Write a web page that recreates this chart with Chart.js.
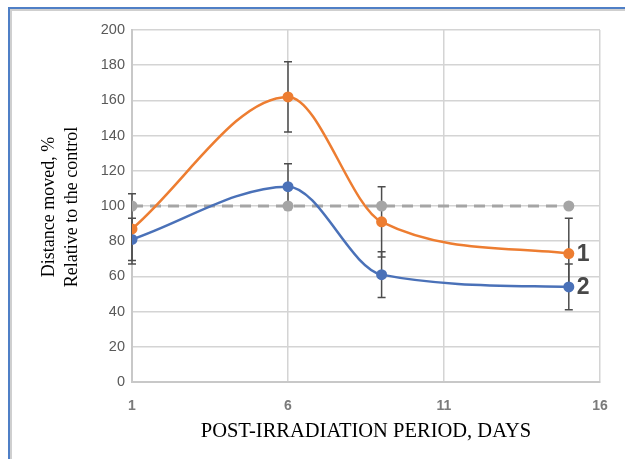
<!DOCTYPE html>
<html>
<head>
<meta charset="utf-8">
<script src="https://cdn.jsdelivr.net/npm/chart.js@4"></script>
<style>
  html, body { margin: 0; padding: 0; background: #ffffff; }
  #wrap { position: relative; width: 625px; height: 459px; overflow: hidden; }
  #frameOuter { position: absolute; left: 8px; top: 7px; width: 700px; height: 500px;
    border-left: 2px solid #4f7fc6; border-top: 2px solid #4f7fc6; }
  #frameInner { position: absolute; left: 10px; top: 9px; width: 700px; height: 500px;
    border-left: 2px solid #cfcfcf; border-top: 2px solid #cfcfcf; }
  canvas { position: absolute; left: 0; top: 0; }
</style>
</head>
<body>
<div id="wrap">
  <div id="frameOuter"></div>
  <div id="frameInner"></div>
  <canvas id="c" width="625" height="459"></canvas>
</div>
<script>
const days = [1, 6, 9, 15];
const series1 = [87, 162, 91, 73];      // orange, curve "1"
const series1Err = [20, 20, 20, 20];
const series2 = [81, 111, 61, 54];      // blue, curve "2"
const series2Err = [12, 13, 13, 13];
const control = [100, 100, 100, 100];  // grey dashed control
const seriesLabels = ['1', '2'];
const xTicks = [1, 6, 11, 16];
const yTitle = ['Distance moved, %', 'Relative to the control'];
const xTitle = 'POST-IRRADIATION PERIOD, DAYS';

const toPts = (arr) => arr.map((v, i) => ({ x: days[i], y: v }));

const errorBars = {
  id: 'errorBars',
  beforeDatasetsDraw(chart) {
    const ctx = chart.ctx;
    const ys = chart.scales.y;
    ctx.save();
    ctx.strokeStyle = '#4d4d4d';
    ctx.lineWidth = 1.5;
    chart.data.datasets.forEach((ds, di) => {
      if (!ds.errors) return;
      const meta = chart.getDatasetMeta(di);
      meta.data.forEach((pt, i) => {
        const v = ds.data[i].y, e = ds.errors[i];
        const yt = ys.getPixelForValue(v + e), yb = ys.getPixelForValue(v - e);
        const x = pt.x;
        ctx.beginPath();
        ctx.moveTo(x, yt); ctx.lineTo(x, yb);
        ctx.moveTo(x - 4, yt); ctx.lineTo(x + 4, yt);
        ctx.moveTo(x - 4, yb); ctx.lineTo(x + 4, yb);
        ctx.stroke();
      });
    });
    ctx.restore();
  },
  afterDatasetsDraw(chart) {
    const ctx = chart.ctx;
    ctx.save();
    ctx.fillStyle = '#484848';
    ctx.font = 'bold 23px "Liberation Sans", Arial, sans-serif';
    ctx.textAlign = 'left';
    ctx.textBaseline = 'middle';
    chart.data.datasets.forEach((ds, di) => {
      if (!ds.endLabel) return;
      const meta = chart.getDatasetMeta(di);
      const pt = meta.data[meta.data.length - 1];
      ctx.fillText(ds.endLabel, pt.x + 8, pt.y + 1);
    });
    // axis titles
    const ca = chart.chartArea;
    ctx.fillStyle = '#000000';
    ctx.font = '20.5px "Liberation Serif", "Times New Roman", serif';
    ctx.textAlign = 'center';
    ctx.textBaseline = 'alphabetic';
    ctx.fillText(xTitle, (ca.left + ca.right) / 2, ca.bottom + 55);
    ctx.font = '18px "Liberation Serif", "Times New Roman", serif';
    ctx.save();
    ctx.translate(0, 207);
    ctx.rotate(-Math.PI / 2);
    ctx.textBaseline = 'middle';
    ctx.fillText(yTitle[0], 0, 49);
    ctx.fillText(yTitle[1], 0, 72);
    ctx.restore();
    ctx.restore();
  }
};

new Chart(document.getElementById('c'), {
  type: 'line',
  data: {
    datasets: [
      {
        label: 'control', data: toPts(control),
        borderColor: '#a5a5a5', backgroundColor: '#a5a5a5',
        borderWidth: 3, borderDash: [11, 7], pointRadius: 5.5, pointBorderWidth: 0,
        tension: 0, order: 3
      },
      {
        label: seriesLabels[0], data: toPts(series1), errors: series1Err, endLabel: seriesLabels[0],
        borderColor: '#ed7d31', backgroundColor: '#ed7d31',
        borderWidth: 2.5, pointRadius: 5.5, pointBorderWidth: 0,
        cubicInterpolationMode: 'monotone', order: 1
      },
      {
        label: seriesLabels[1], data: toPts(series2), errors: series2Err, endLabel: seriesLabels[1],
        borderColor: '#4a71b8', backgroundColor: '#4a71b8',
        borderWidth: 2.5, pointRadius: 5.5, pointBorderWidth: 0,
        cubicInterpolationMode: 'monotone', order: 2
      }
    ]
  },
  options: {
    responsive: false,
    animation: false,
    layout: { padding: { left: 0, right: 25, top: 30, bottom: 0 } },
    plugins: { legend: { display: false }, tooltip: { enabled: false } },
    scales: {
      x: {
        type: 'linear', min: 1, max: 16,
        afterBuildTicks: (s) => { s.ticks = xTicks.map(v => ({ value: v })); },
        afterFit: (s) => { s.height = 77; },
        grid: { color: '#d4d4d4', lineWidth: 1.5, drawTicks: false },
        border: { color: '#c8c8c8', width: 2 },
        ticks: { color: '#7a7a7a', padding: 16, font: { family: '"Liberation Sans", Arial, sans-serif', size: 14, weight: 'bold' } }
      },
      y: {
        min: 0, max: 200,
        ticks: { stepSize: 20, color: '#595959', padding: 7, font: { family: '"Liberation Sans", Arial, sans-serif', size: 14.5 } },
        afterFit: (s) => { s.width = 132; },
        grid: { color: '#d4d4d4', lineWidth: 1.5, drawTicks: false },
        border: { color: '#c8c8c8', width: 2 }
      }
    }
  },
  plugins: [errorBars]
});
</script>
</body>
</html>
